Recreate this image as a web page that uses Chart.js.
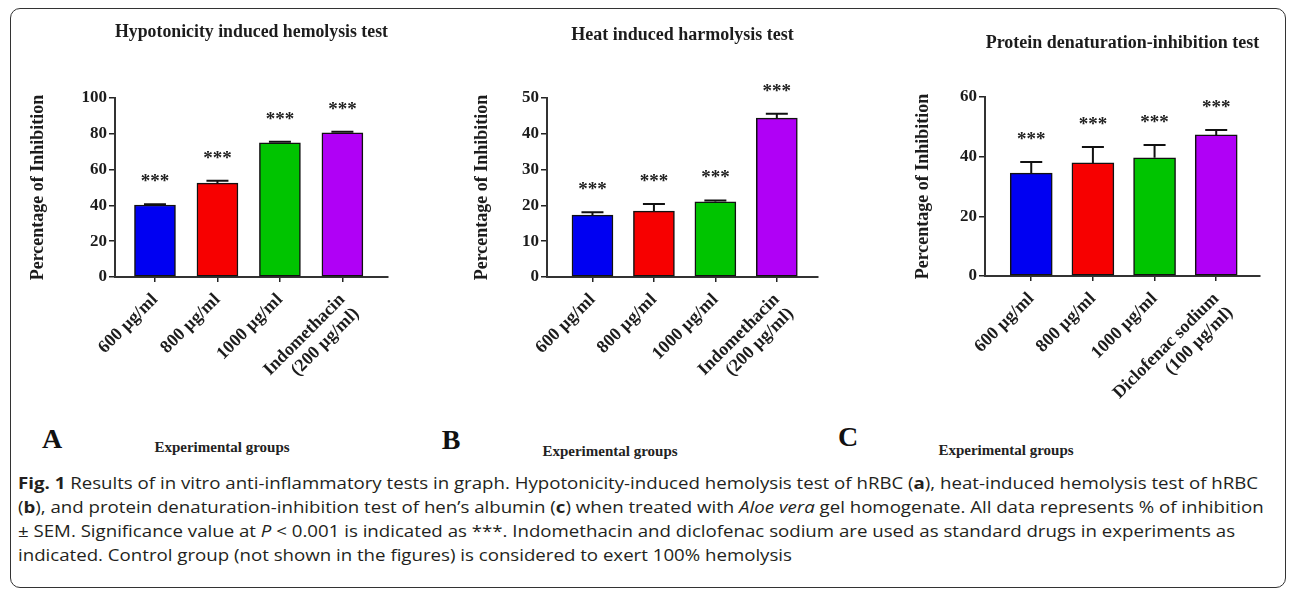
<!DOCTYPE html>
<html>
<head>
<meta charset="utf-8">
<script src="https://cdn.jsdelivr.net/npm/chart.js@4"></script>
<style>
  body { margin: 0; background: #fff; }
  #page { position: relative; width: 1290px; height: 592px; overflow: hidden; background: #fff; }
  #frame { position: absolute; left: 10px; top: 8px; width: 1274px; height: 578px; border: 1.5px solid #333; border-radius: 10px; }
  .panel { position: absolute; top: 0; }
  .mark { position: absolute; font: bold 28px "Liberation Serif", serif; color: #111; transform: translate(-50%, -50%); }
  .xtitle { position: absolute; font: bold 15px "Liberation Serif", serif; color: #222; transform: translate(-50%, -50%); white-space: nowrap; }
  #caption { position: absolute; left: 18px; top: 471px; font: 16px "Open Sans", sans-serif; line-height: 24px; color: #231f20; white-space: nowrap; transform: scaleX(1.166); transform-origin: 0 0; }
</style>
</head>
<body>
<div id="page">
  <div id="frame"></div>
  <div class="panel" style="left:0"><canvas id="chartA" width="430" height="420"></canvas></div>
  <div class="panel" style="left:430px"><canvas id="chartB" width="430" height="420"></canvas></div>
  <div class="panel" style="left:860px"><canvas id="chartC" width="430" height="420"></canvas></div>

  <div class="mark" style="left:52px;top:439px">A</div>
  <div class="xtitle" style="left:222px;top:447px">Experimental groups</div>
  <div class="mark" style="left:451px;top:440px">B</div>
  <div class="xtitle" style="left:610px;top:451px">Experimental groups</div>
  <div class="mark" style="left:848px;top:437px">C</div>
  <div class="xtitle" style="left:1006px;top:450px">Experimental groups</div>

  <div id="caption">
    <div><b>Fig. 1</b> Results of in vitro anti-inflammatory tests in graph. Hypotonicity-induced hemolysis test of hRBC (<b>a</b>), heat-induced hemolysis test of hRBC</div>
    <div>(<b>b</b>), and protein denaturation-inhibition test of hen’s albumin (<b>c</b>) when treated with <i>Aloe vera</i> gel homogenate. All data represents % of inhibition</div>
    <div>± SEM. Significance value at <i>P</i> &lt; 0.001 is indicated as ***. Indomethacin and diclofenac sodium are used as standard drugs in experiments as</div>
    <div>indicated. Control group (not shown in the figures) is considered to exert 100% hemolysis</div>
  </div>
</div>

<script>
// groups on the x axis
const groupsAB = ["600 µg/ml", "800 µg/ml", "1000 µg/ml", ["Indomethacin", "(200 µg/ml)"]];
const groupsC = ["600 µg/ml", "800 µg/ml", "1000 µg/ml", ["Diclofenac sodium", "(100 µg/ml)"]];

// % inhibition (mean) and SEM
const hypoMean = [40.2, 52.4, 75.0, 80.6];
const hypoSem = [0.4, 1.4, 0.5, 0.6];
const heatMean = [17.3, 18.4, 21.0, 44.4];
const heatSem = [0.8, 2.0, 0.4, 1.2];
const protMean = [34.5, 37.9, 39.6, 47.3];
const protSem = [3.7, 5.3, 4.3, 1.6];

// y axis ticks
const hypoTicks = [0, 20, 40, 60, 80, 100];
const heatTicks = [0, 10, 20, 30, 40, 50];
const protTicks = [0, 20, 40, 60];

const signif = "***";
const barColors = ["#0000f2", "#f70000", "#00c400", "#b000f6"];
const serif = "'Liberation Serif', 'Times New Roman', serif";

Chart.defaults.font.family = serif;
Chart.defaults.font.weight = "bold";
Chart.defaults.color = "#1c1c1c";

// SEM bars (upwards only) and the significance stars
const errorBars = {
  id: "errorBars",
  afterDatasetsDraw(chart, args, opts) {
    const { ctx } = chart;
    const y = chart.scales.y;
    const bars = chart.getDatasetMeta(0).data;
    ctx.save();
    ctx.strokeStyle = "#111";
    ctx.lineWidth = 2;
    ctx.fillStyle = "#222";
    ctx.font = "bold 19px " + serif;
    ctx.textAlign = "center";
    bars.forEach((bar, i) => {
      const top = y.getPixelForValue(opts.mean[i] + opts.sem[i]);
      ctx.beginPath();
      ctx.moveTo(bar.x, bar.y);
      ctx.lineTo(bar.x, top);
      ctx.moveTo(bar.x - 11, top);
      ctx.lineTo(bar.x + 11, top);
      ctx.stroke();
      ctx.fillText(signif, bar.x, top - 27 + 10);
    });
    ctx.restore();
  }
};

function makeChart(id, p) {
  const lh = 22;
  const padLeft = p.yTitleX - lh / 2 - 3;
  return new Chart(document.getElementById(id), {
    type: "bar",
    data: {
      datasets: [{
        data: p.mean.map((v, i) => ({ x: i, y: v })),
        backgroundColor: barColors,
        borderColor: "#111",
        borderWidth: 1.5,
        borderSkipped: false,
        barThickness: p.barW
      }]
    },
    options: {
      responsive: false,
      animation: false,
      layout: { padding: { left: padLeft, right: 430 - p.right, top: 0, bottom: 0 } },
      plugins: {
        legend: { display: false },
        tooltip: { enabled: false },
        title: {
          display: true,
          text: p.title,
          fullSize: false,
          color: "#1c1c1c",
          font: { size: 18, weight: "bold", lineHeight: lh / 18 },
          padding: { top: p.titleY - lh / 2, bottom: p.top - p.titleY - lh / 2 }
        },
        errorBars: { mean: p.mean, sem: p.sem }
      },
      scales: {
        x: {
          type: "linear",
          min: p.xMin,
          max: p.xMax,
          bounds: "data",
          offset: false,
          afterBuildTicks: (s) => { s.ticks = p.groups.map((g, i) => ({ value: i })); },
          afterFit: (s) => {
            s.height = 420 - p.bottom;
            s.paddingLeft = 0;
            s.paddingRight = 0;
          },
          grid: { offset: false, drawOnChartArea: false, drawTicks: true, tickLength: 5, color: "#222", lineWidth: 1.5 },
          border: { display: true, color: "#333", width: 2 },
          ticks: {
            autoSkip: false,
            minRotation: 45,
            maxRotation: 45,
            padding: 8,
            font: { size: 18, weight: "bold", lineHeight: 1.1 },
            callback: (v) => p.groups[v]
          }
        },
        y: {
          min: p.ticks[0],
          max: p.ticks[p.ticks.length - 1],
          afterFit: (s) => { s.width = p.left - padLeft; },
          afterBuildTicks: (s) => { s.ticks = p.ticks.map((v) => ({ value: v })); },
          grid: { drawOnChartArea: false, drawTicks: true, tickLength: 6, color: "#222", lineWidth: 1.5 },
          border: { display: true, color: "#333", width: 2 },
          ticks: { padding: 2, font: { size: 17, weight: "bold" } },
          title: {
            display: true,
            text: "Percentage of Inhibition",
            padding: { top: 3, bottom: 0 },
            font: { size: 18, weight: "bold", lineHeight: lh / 18 }
          }
        }
      }
    },
    plugins: [errorBars]
  });
}

makeChart("chartA", {
  title: "Hypotonicity induced hemolysis test", groups: groupsAB,
  mean: hypoMean, sem: hypoSem, ticks: hypoTicks,
  left: 115, right: 388, top: 98, bottom: 277, titleY: 32, yTitleX: 38,
  xMin: -0.64, xMax: 3.73, barW: 41
});
makeChart("chartB", {
  title: "Heat induced harmolysis test", groups: groupsAB,
  mean: heatMean, sem: heatSem, ticks: heatTicks,
  left: 117, right: 388, top: 98, bottom: 277, titleY: 35, yTitleX: 52,
  xMin: -0.74, xMax: 3.67, barW: 41
});
makeChart("chartC", {
  title: "Protein denaturation-inhibition test", groups: groupsC,
  mean: protMean, sem: protSem, ticks: protTicks,
  left: 125, right: 400, top: 97, bottom: 276, titleY: 43, yTitleX: 63,
  xMin: -0.75, xMax: 3.71, barW: 42
});
</script>
</body>
</html>
